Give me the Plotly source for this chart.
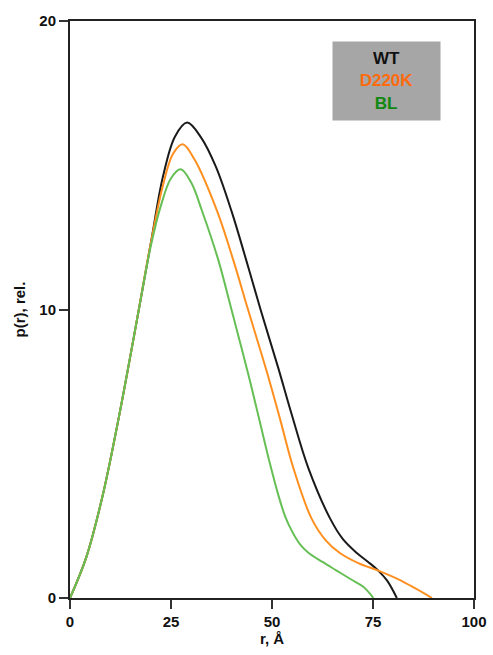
import plotly.graph_objects as go

# Data (r in Å, p(r) relative)
wt_r = [0, 4, 8, 12, 16, 20, 23.0, 26.0, 29.0, 32.5, 36.1, 40.0, 43.6, 47.2, 51.6, 54.9, 59.0, 64.4, 67.5, 71.0, 73.8, 76.3, 78.5, 80.9]
wt_p = [0, 1.4, 3.5, 6.2, 9.2, 12.3, 14.6, 16.0, 16.48, 15.95, 14.95, 13.4, 11.72, 9.98, 7.95, 6.35, 4.5, 2.75, 2.05, 1.56, 1.25, 0.95, 0.6, 0]

d220k_r = [0, 4, 8, 12, 16, 20, 23.0, 25.5, 27.9, 30.9, 36.3, 40.4, 44.1, 48.7, 52.0, 55.3, 59.8, 63.3, 66.8, 71.5, 76.3, 81.7, 85.5, 89.6]
d220k_p = [0, 1.4, 3.5, 6.2, 9.2, 12.3, 14.3, 15.4, 15.73, 15.18, 13.45, 11.72, 9.98, 7.85, 6.2, 4.5, 2.75, 2.0, 1.56, 1.2, 0.95, 0.62, 0.33, 0]

bl_r = [0, 4, 8, 12, 16, 20, 22.5, 25.0, 27.4, 30.0, 32.6, 36.7, 40.0, 42.3, 44.6, 47.0, 49.5, 51.5, 53.2, 55.0, 57.0, 59.0, 62.5, 66.0, 69.5, 72.6, 75.1]
bl_p = [0, 1.4, 3.5, 6.2, 9.2, 12.2, 13.6, 14.55, 14.86, 14.4, 13.45, 11.72, 9.98, 8.75, 7.5, 6.1, 4.65, 3.6, 2.85, 2.3, 1.85, 1.57, 1.25, 0.95, 0.65, 0.39, 0]

x_ticks = [0, 25, 50, 75, 100]
y_ticks = [0, 10, 20]

series = [
    ("WT", wt_r, wt_p, "#1a1a1a"),
    ("D220K", d220k_r, d220k_p, "#ff8f1f"),
    ("BL", bl_r, bl_p, "#66bf55"),
]

fig = go.Figure()
for name, r, p, c in series:
    fig.add_trace(go.Scatter(x=r, y=p, mode="lines", name=name,
                             line=dict(color=c, width=2, shape="spline", smoothing=1.0)))

font_family = "Liberation Sans, Arial, sans-serif"
axis_common = dict(showgrid=False, zeroline=False, showline=True, linecolor="#222",
                   linewidth=2, mirror=True, ticks="outside", ticklen=9, tickwidth=2,
                   tickcolor="#333", automargin=False,
                   tickfont=dict(family=font_family, size=15, color="#111"))

fig.update_layout(
    width=493, height=655,
    margin=dict(l=70, r=19, t=21, b=57, autoexpand=False),
    paper_bgcolor="white", plot_bgcolor="white",
    showlegend=False,
    font=dict(family=font_family, color="#111"),
    xaxis=dict(range=[0, 100], tickvals=x_ticks, ticktext=[f"<b>{v}</b>" for v in x_ticks],
               title=dict(text="<b>r, Å</b>", font=dict(size=15), standoff=2), **axis_common),
    yaxis=dict(range=[0, 20], tickvals=y_ticks, ticktext=[f"<b>{v}</b>" for v in y_ticks],
               title=dict(text="<b>p(r), rel.</b>", font=dict(size=15), standoff=10), **axis_common),
)

legend_text = ("<b><span style='color:#111'>WT</span></b><br>"
               "<b><span style='color:#ff6a0d'>D220K</span></b><br>"
               "<b><span style='color:#118811'>BL</span></b>")
fig.add_annotation(xref="paper", yref="paper", x=(332 - 70) / 404, y=1 - (41 - 21) / 577,
                   xanchor="left", yanchor="top", showarrow=False, align="center",
                   text=legend_text, bgcolor="#a6a6a6", width=105, height=76,
                   font=dict(family=font_family, size=17))

fig.write_html("out.html", config={"displayModeBar": False},
               post_script="document.body.style.margin='0';document.body.style.padding='0';")
